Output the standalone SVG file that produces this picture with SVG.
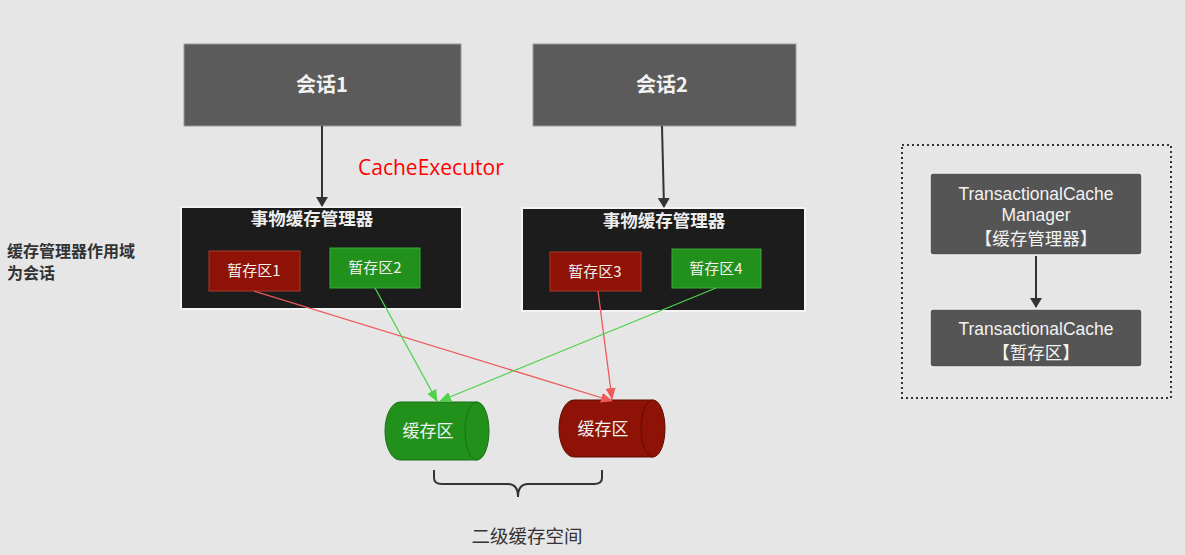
<svg xmlns="http://www.w3.org/2000/svg" width="1185" height="555" viewBox="0 0 1185 555">
<defs>
<style>
.sess{fill:#5b5b5b;stroke:#9a9a9a;stroke-width:1}
.sesst{font-family:"Noto Sans CJK SC","Liberation Sans",sans-serif;font-size:20px;font-weight:bold;fill:#f2f2f2;text-anchor:middle}
.mgr{fill:#1c1c1c;stroke:#f4f4f4;stroke-width:2}
.mgrt{font-family:"Noto Sans CJK SC",sans-serif;font-size:17.5px;font-weight:bold;fill:#eeeeee;text-anchor:middle}
.red{fill:#8e1205;stroke:#a83a2a;stroke-width:1}
.grn{fill:#22911c;stroke:#3aa834;stroke-width:1}
.bt{font-family:"Noto Sans CJK SC","Liberation Sans",sans-serif;font-size:15px;fill:#f0f0f0;text-anchor:middle}
.ct{font-family:"Noto Sans CJK SC",sans-serif;font-size:17px;fill:#f0f0f0;text-anchor:middle}
.dark{fill:#555555;stroke:#eeeeee;stroke-width:1.5}
.wt{font-family:"Liberation Sans","Noto Sans CJK SC",sans-serif;font-size:17.5px;fill:#f2f2f2;text-anchor:middle}
.lbl{font-family:"Noto Sans CJK SC",sans-serif;font-size:16px;font-weight:bold;fill:#333333}
.sp{font-family:"Noto Sans CJK SC",sans-serif;font-size:18.5px;fill:#333333;text-anchor:middle}
.blk{stroke:#333333;stroke-width:2;fill:none}
.rl{stroke:#ee5a5a;stroke-width:1.3;fill:none}
.gl{stroke:#4fd24a;stroke-width:1.3;fill:none}
</style>
<marker id="ab" markerWidth="10" markerHeight="12" refX="9" refY="6" orient="auto" markerUnits="userSpaceOnUse"><path d="M0,0 L10,6 L0,12 Z" fill="#333333"/></marker>
<marker id="ar" markerWidth="12" markerHeight="12" refX="11" refY="6" orient="auto" markerUnits="userSpaceOnUse"><path d="M0,1 L12,6 L0,11 Z" fill="#ee5a5a"/></marker>
<marker id="ag" markerWidth="12" markerHeight="12" refX="11" refY="6" orient="auto" markerUnits="userSpaceOnUse"><path d="M0,1 L12,6 L0,11 Z" fill="#4fd24a"/></marker>
</defs>
<rect x="0" y="0" width="1185" height="555" fill="#e6e6e6"/>

<g id="session1"><rect class="sess" x="184" y="44" width="277" height="82"/><text class="sesst" x="322" y="92">会话1</text></g>
<g id="session2"><rect class="sess" x="533" y="44" width="263" height="82"/><text class="sesst" x="662" y="92">会话2</text></g>

<text x="358" y="175" font-family="'Open Sans','Liberation Sans',sans-serif" font-size="21" fill="#ff0000">CacheExecutor</text>

<g id="manager1"><rect class="mgr" x="181" y="207" width="281" height="102"/><text class="mgrt" x="312" y="225">事物缓存管理器</text></g>
<g id="buf1"><rect class="red" x="209" y="251" width="91" height="40"/><text class="bt" x="254" y="276">暂存区1</text></g>
<g id="buf2"><rect class="grn" x="330" y="248" width="90" height="40"/><text class="bt" x="375" y="273">暂存区2</text></g>

<g id="manager2"><rect class="mgr" x="522" y="208" width="283" height="103"/><text class="mgrt" x="664" y="227">事物缓存管理器</text></g>
<g id="buf3"><rect class="red" x="550" y="252" width="91" height="39"/><text class="bt" x="595" y="277">暂存区3</text></g>
<g id="buf4"><rect class="grn" x="672" y="249" width="89" height="39"/><text class="bt" x="716" y="274">暂存区4</text></g>

<g id="cache-green">
<path d="M400,402 H477 A12,29 0 0 1 477,460 H400 A15,29 0 0 1 400,402 Z" fill="#22911c" stroke="#1d6e18" stroke-width="1"/>
<path d="M477,402 A12,29 0 0 0 477,460" fill="none" stroke="#1d6e18" stroke-width="1"/>
<text class="ct" x="428" y="437">缓存区</text>
</g>
<g id="cache-red">
<path d="M574,400 H653 A12,28.5 0 0 1 653,457 H574 A15,28.5 0 0 1 574,400 Z" fill="#8e1205" stroke="#5e0c04" stroke-width="1"/>
<path d="M653,400 A12,28.5 0 0 0 653,457" fill="none" stroke="#5e0c04" stroke-width="1"/>
<text class="ct" x="603" y="435">缓存区</text>
</g>

<g id="connectors">
<line class="blk" x1="322" y1="126" x2="322" y2="206" marker-end="url(#ab)"/>
<line class="blk" x1="662" y1="126" x2="664" y2="207" marker-end="url(#ab)"/>
<line class="rl" x1="254" y1="291" x2="612" y2="401" marker-end="url(#ar)"/>
<line class="rl" x1="598" y1="291" x2="612" y2="399" marker-end="url(#ar)"/>
<line class="gl" x1="375" y1="288" x2="437" y2="401" marker-end="url(#ag)"/>
<line class="gl" x1="716" y1="288" x2="440" y2="401" marker-end="url(#ag)"/>
<line class="blk" x1="1036" y1="256" x2="1036" y2="307" marker-end="url(#ab)"/>
</g>

<g id="brace"><path d="M434,470 V478 Q434,484 442,484 H508 Q518,484 518,497 Q518,484 528,484 H594 Q602,484 602,478 V470" fill="none" stroke="#333333" stroke-width="2"/></g>
<text class="sp" x="527" y="543">二级缓存空间</text>

<g id="note"><text class="lbl" x="7" y="257">缓存管理器作用域</text><text class="lbl" x="7" y="279">为会话</text></g>

<g id="legend">
<rect x="902" y="145" width="269" height="253" fill="none" stroke="#333333" stroke-width="2" stroke-dasharray="2,3"/>
</g>
<g id="tcm"><rect class="dark" x="930" y="173" width="212" height="82" rx="3"/>
<text class="wt" x="1036" y="200">TransactionalCache</text>
<text class="wt" x="1036" y="221">Manager</text>
<text class="wt" x="1036" y="245">【缓存管理器】</text></g>
<g id="tc"><rect class="dark" x="930" y="309" width="212" height="58" rx="3"/>
<text class="wt" x="1036" y="335">TransactionalCache</text>
<text class="wt" x="1036" y="359">【暂存区】</text></g>
</svg>
